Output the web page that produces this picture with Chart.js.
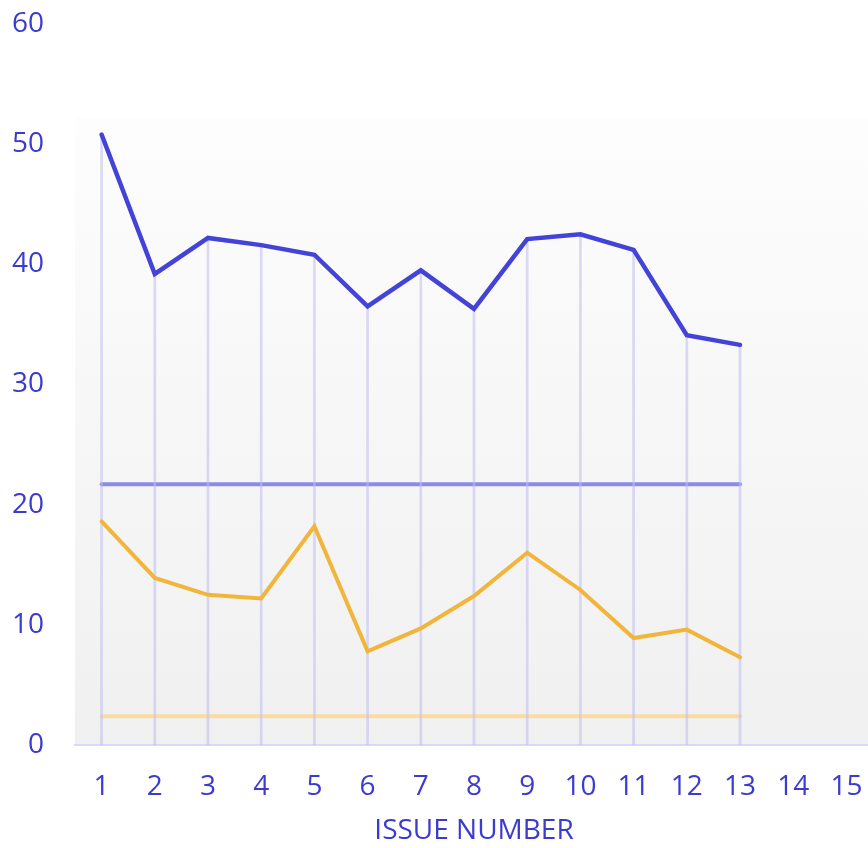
<!DOCTYPE html>
<html>
<head>
<meta charset="utf-8">
<script src="https://cdn.jsdelivr.net/npm/chart.js@4"></script>
<style>
  html, body { margin: 0; padding: 0; background: #ffffff; overflow: hidden; }
  #wrap { width: 868px; height: 848px; overflow: hidden; }
  #c { display: block; }
</style>
</head>
<body>
<div id="wrap"><canvas id="c" width="873" height="848"></canvas></div>
<script>
// ---- data ----
const issueLabels = ['1','2','3','4','5','6','7','8','9','10','11','12','13','14','15'];
const blueSeries  = [50.8, 39.2, 42.2, 41.6, 40.8, 36.5, 39.5, 36.3, 42.1, 42.5, 41.2, 34.1, 33.3];
const goldSeries  = [18.6, 13.9, 12.5, 12.2, 18.2, 7.8, 9.7, 12.4, 16.0, 12.9, 8.9, 9.6, 7.3];
const blueRef = 21.7;
const goldRef = 2.4;
const refStart = '1';
const refEnd = '13';
const yTicks = [0, 10, 20, 30, 40, 50, 60];
const xTitle = 'ISSUE NUMBER';

const textColor = '#3b3bd0';
const fontFamily = '"Open Sans", "Noto Sans", sans-serif';

const bgPlugin = {
  id: 'bgGradient',
  beforeDraw(chart) {
    const { ctx, chartArea } = chart;
    const top = chartArea.top + (chartArea.bottom - chartArea.top) * 0.13;
    const g = ctx.createLinearGradient(0, top, 0, chartArea.bottom);
    g.addColorStop(0, '#fdfdfd');
    g.addColorStop(1, '#f0f0f0');
    ctx.save();
    ctx.fillStyle = g;
    ctx.fillRect(chartArea.left, top, chartArea.right - chartArea.left, chartArea.bottom - top);
    ctx.restore();
  }
};

new Chart(document.getElementById('c'), {
  data: {
    labels: issueLabels,
    datasets: [
      {
        type: 'line',
        data: [{ x: refStart, y: goldRef }, { x: refEnd, y: goldRef }],
        borderColor: '#fadca2',
        borderWidth: 4,
        borderCapStyle: 'round',
        pointRadius: 0,
        order: 6
      },
      {
        type: 'line',
        data: [{ x: refStart, y: blueRef }, { x: refEnd, y: blueRef }],
        borderColor: '#8a8ae8',
        borderWidth: 4,
        borderCapStyle: 'round',
        pointRadius: 0,
        order: 5
      },
      {
        type: 'bar',
        data: blueSeries,
        backgroundColor: 'rgba(190,190,240,0.55)',
        barThickness: 2,
        borderWidth: 0,
        order: 3
      },
      {
        type: 'line',
        data: goldSeries,
        borderColor: '#f2b53c',
        borderWidth: 4,
        borderCapStyle: 'round',
        tension: 0,
        pointRadius: 0,
        order: 2
      },
      {
        type: 'line',
        data: blueSeries,
        borderColor: '#4343d8',
        borderWidth: 4.5,
        borderCapStyle: 'round',
        tension: 0,
        pointRadius: 0,
        order: 1
      }
    ]
  },
  options: {
    responsive: false,
    animation: false,
    events: [],
    layout: { padding: { top: 24, right: 0, left: 0, bottom: 0 } },
    plugins: { legend: { display: false }, tooltip: { enabled: false } },
    scales: {
      x: {
        type: 'category',
        offset: true,
        grid: { display: false, drawTicks: false },
        border: { display: true, color: '#d8d8fa', width: 2 },
        ticks: {
          color: textColor,
          font: { family: fontFamily, size: 28 },
          padding: 25,
          maxRotation: 0,
          autoSkip: false
        },
        title: {
          display: true,
          text: xTitle,
          color: textColor,
          font: { family: fontFamily, size: 28 },
          padding: { top: 0, bottom: 0 }
        },
        afterFit(scale) {
          scale.paddingLeft = 0;
          scale.paddingRight = 0;
          scale.height = 103;
        }
      },
      y: {
        type: 'linear',
        min: 0,
        max: 60,
        afterBuildTicks(scale) { scale.ticks = yTicks.map(v => ({ value: v })); },
        grid: { display: false, drawTicks: false },
        border: { display: false },
        ticks: {
          color: textColor,
          font: { family: fontFamily, size: 28 },
          padding: 31
        },
        afterFit(scale) {
          scale.width = 75;
          scale.paddingTop = 0;
          scale.paddingBottom = 0;
        }
      }
    }
  },
  plugins: [bgPlugin]
});
</script>
</body>
</html>
